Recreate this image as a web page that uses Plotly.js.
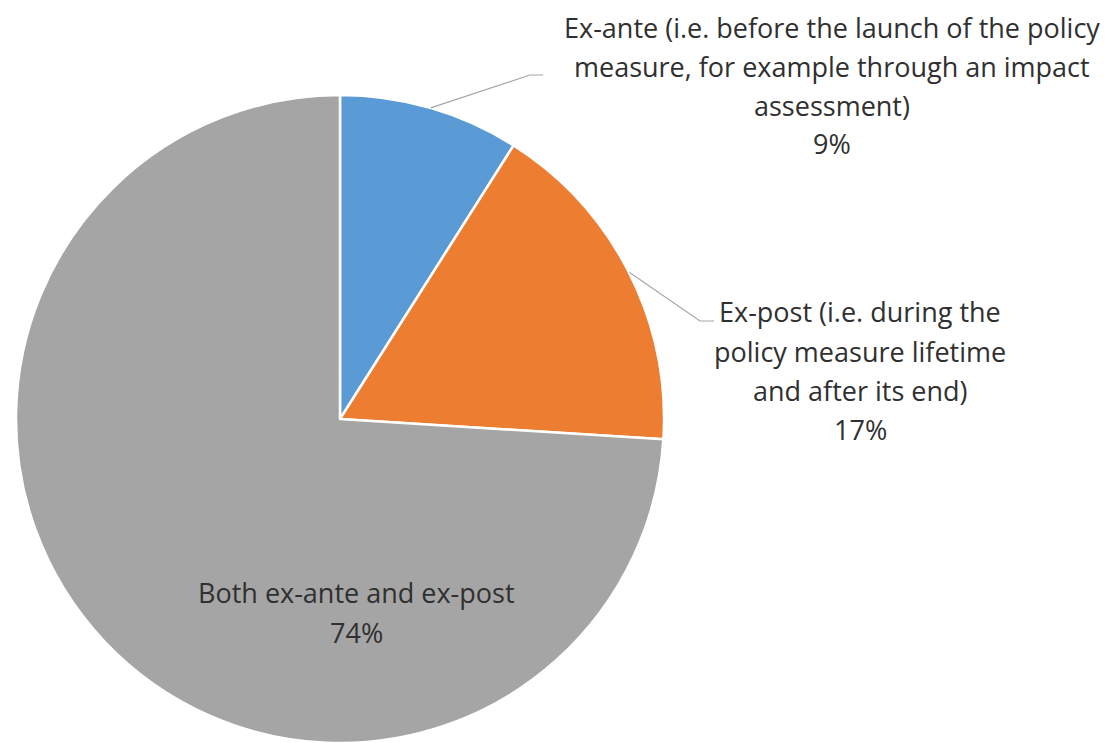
<!DOCTYPE html>
<html>
<head>
<meta charset="utf-8">
<script src="https://cdn.plot.ly/plotly-3.0.1.min.js"></script>
<style>html,body{margin:0;padding:0;background:#fff;}#chart{width:1109px;height:743px;}</style>
</head>
<body>
<div id="chart"></div>
<script>
// ---- data ----
const categories = [
  "Ex-ante (i.e. before the launch of the policy measure, for example through an impact assessment)",
  "Ex-post (i.e. during the policy measure lifetime and after its end)",
  "Both ex-ante and ex-post"
];
const values = [9, 17, 74];
const percentLabels = ["9%", "17%", "74%"];
const labelLines = [
  ["Ex-ante (i.e. before the launch of the policy", "measure, for example through an impact", "assessment)"],
  ["Ex-post (i.e. during the", "policy measure lifetime", "and after its end)"],
  ["Both ex-ante and ex-post"]
];
const colors = ["#5B9BD5", "#ED7D31", "#A5A5A5"];

// ---- layout geometry (pixels) ----
const W = 1109, H = 743;
const cx = 340, cyTop = 420, R = 325;
const px = x => x / W;
const py = y => 1 - y / H;

const domX = [px(cx - R), px(cx + R)];
const domY = [0, py(cyTop - R)];

// label placements: [centerX, first line center Y, line spacing]
const labelPos = [
  {x: 832, y: 28, dy: 38.5},
  {x: 860, y: 312, dy: 39},
  {x: 356, y: 592, dy: 40}
];
// leader elbow points for outside labels
const elbows = [
  {bx: 530, by: 75, ex: 543},
  {bx: 700, by: 321, ex: 714}
];

const textFont = {family: "'Open Sans', Lato, sans-serif", size: 27, color: "#303030"};

const annotations = [];
labelLines.forEach((lines, i) => {
  const all = lines.concat([percentLabels[i]]);
  all.forEach((t, j) => {
    annotations.push({
      xref: "paper", yref: "paper",
      x: px(labelPos[i].x), y: py(labelPos[i].y + j * labelPos[i].dy),
      xanchor: "center", yanchor: "middle",
      text: t, showarrow: false, font: textFont
    });
  });
});

// leader lines from slice mid-angle on the rim
const total = values.reduce((a, b) => a + b, 0);
const shapes = [];
let cum = 0;
values.forEach((v, i) => {
  const mid = (cum + v / 2) / total * 2 * Math.PI;
  cum += v;
  if (i < elbows.length) {
    const sx = cx + R * Math.sin(mid);
    const sy = cyTop - R * Math.cos(mid);
    const e = elbows[i];
    shapes.push({
      type: "path", xref: "paper", yref: "paper",
      path: `M ${px(sx)} ${py(sy)} L ${px(e.bx)} ${py(e.by)} L ${px(e.ex)} ${py(e.by)}`,
      line: {color: "#A6A6A6", width: 1.2}
    });
  }
});

const trace = {
  type: "pie",
  labels: categories,
  values: values,
  sort: false,
  direction: "clockwise",
  rotation: 0,
  marker: {colors: colors, line: {color: "#FFFFFF", width: 2.5}},
  textinfo: "none",
  hoverinfo: "label+percent",
  domain: {x: domX, y: domY},
  showlegend: false
};

const layout = {
  width: W, height: H,
  margin: {l: 0, r: 0, t: 0, b: 0},
  paper_bgcolor: "#FFFFFF",
  showlegend: false,
  annotations: annotations,
  shapes: shapes
};

Plotly.newPlot("chart", [trace], layout, {displayModeBar: false, staticPlot: true});
</script>
</body>
</html>
